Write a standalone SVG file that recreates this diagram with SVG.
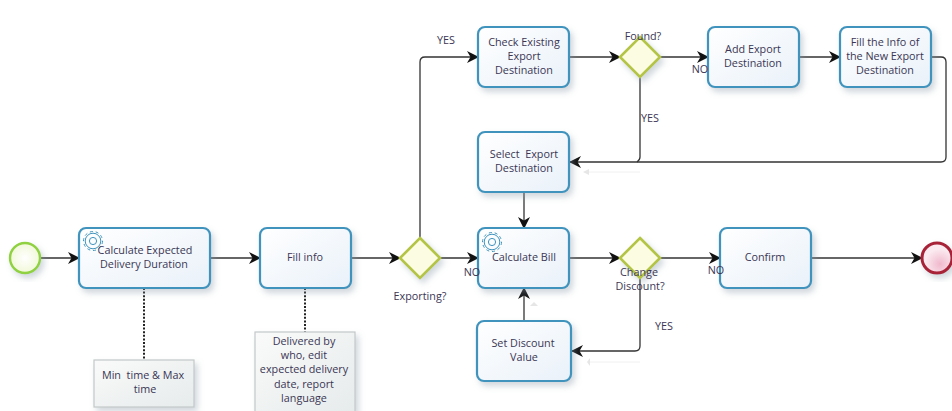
<svg xmlns="http://www.w3.org/2000/svg" width="952" height="411" viewBox="0 0 952 411">
<style>
text{font-family:"Open Sans","Liberation Sans",sans-serif;font-size:10.8px;fill:#3a3654;text-anchor:middle;white-space:pre}
.task{fill:url(#tg);stroke:#3f93bd;stroke-width:2.2;filter:url(#sh)}
.gw{fill:#fbfce2;stroke:#b4c444;stroke-width:2.6;filter:url(#sh)}
.note{fill:url(#ng);stroke:#c4c8c8;stroke-width:1.2;filter:url(#sh)}
.flow{fill:none;stroke:#333;stroke-width:1.3;marker-end:url(#ah)}
.gear{fill:none;stroke:#3f93bd;stroke-width:1}
.ghost{fill:none;stroke:#f0f0f0;stroke-width:1}
</style>
<defs>
<linearGradient id="tg" x1="0" y1="0" x2="1" y2="1"><stop offset="0" stop-color="#ffffff"/><stop offset="1" stop-color="#e9f1f9"/></linearGradient>
<linearGradient id="ng" x1="0" y1="0" x2="1" y2="1"><stop offset="0" stop-color="#fafafa"/><stop offset="1" stop-color="#e6ebeb"/></linearGradient>
<radialGradient id="sg"><stop offset="0" stop-color="#ffffff"/><stop offset="1" stop-color="#f1f8d8"/></radialGradient>
<radialGradient id="eg" cx="0.6" cy="0.7"><stop offset="0" stop-color="#f0b8cc"/><stop offset="1" stop-color="#fbeaf0"/></radialGradient>
<filter id="sh" x="-20%" y="-20%" width="150%" height="150%"><feDropShadow dx="3" dy="4" stdDeviation="3" flood-color="#8a9aa8" flood-opacity="0.4"/></filter>
<marker id="ah" viewBox="0 0 12 12" refX="11" refY="6" markerWidth="12" markerHeight="12" markerUnits="userSpaceOnUse" orient="auto"><path d="M0 0L12 6L0 12L3.5 6Z" fill="#111"/></marker>
<g id="gearIcon"><circle class="gear" r="9.5" stroke-width="2.4" stroke-dasharray="3 2.9"/><circle class="gear" r="7.8"/><circle class="gear" r="3.6"/></g>
</defs>

<g id="connectors">
<path class="flow" d="M40 258H79"/>
<path class="flow" d="M210 258H260"/>
<path class="flow" d="M351 258H400"/>
<path class="flow" d="M440 258H478"/>
<path class="flow" d="M420 238V62Q420 57 425 57H478"/>
<path class="flow" d="M569 57H620"/>
<path class="flow" d="M660 57H708"/>
<path class="flow" d="M799 57H840"/>
<path class="flow" d="M931 57H941Q946 57 946 62V157Q946 162 941 162H570"/>
<path class="flow" style="marker-end:none" d="M640 77V157Q640 160 637 162"/>
<path class="flow" d="M524 192V228"/>
<path class="flow" d="M524 321V288"/>
<path class="flow" d="M569 258H620"/>
<path class="flow" d="M660 258H720"/>
<path class="flow" d="M811 258H922"/>
<path class="flow" d="M640 278V346Q640 351 635 351H572"/>
<path d="M144 288V360M305 288V332" fill="none" stroke="#222" stroke-width="2" stroke-dasharray="2 1.6"/>
<path class="ghost" d="M586 172H640M590 362H640"/>
<path d="M583 172L589 169V175Z M587 362L590 358L590 366Z M534 302L530 306H538Z" fill="#e6e6e6"/>
</g>

<g id="start"><circle cx="25" cy="258" r="15" fill="url(#sg)" stroke="#8fd13f" stroke-width="2.4" filter="url(#sh)"/></g>
<g id="calc-duration"><rect class="task" x="79" y="228" width="131" height="60" rx="7"/><use href="#gearIcon" x="93" y="241"/><text x="145" y="254">Calculate Expected</text><text x="144" y="268">Delivery Duration</text></g>
<g id="fill-info"><rect class="task" x="260" y="228" width="91" height="60" rx="7"/><text x="305" y="261">Fill info</text></g>
<g id="exporting"><path class="gw" d="M420 238L440 258L420 278L400 258Z"/><text x="420" y="300">Exporting?</text></g>
<g id="check"><rect class="task" x="478" y="27" width="91" height="60" rx="7"/><text x="524" y="46">Check Existing</text><text x="524" y="60">Export</text><text x="524" y="74">Destination</text></g>
<g id="found"><path class="gw" d="M640 37L660 57L640 77L620 57Z"/><text x="643" y="40">Found?</text></g>
<g id="add"><rect class="task" x="708" y="27" width="91" height="60" rx="7"/><text x="753" y="53">Add Export</text><text x="753" y="67">Destination</text></g>
<g id="fill-new"><rect class="task" x="840" y="27" width="91" height="60" rx="7"/><text x="885" y="46">Fill the Info of</text><text x="885" y="60">the New Export</text><text x="885" y="74">Destination</text></g>
<g id="select"><rect class="task" x="478" y="132" width="91" height="60" rx="7"/><text x="524" y="158">Select  Export</text><text x="524" y="172">Destination</text></g>
<g id="calc-bill"><rect class="task" x="478" y="228" width="91" height="60" rx="7"/><use href="#gearIcon" x="492" y="242"/><text x="524" y="261">Calculate Bill</text></g>
<g id="change"><path class="gw" d="M640 238L660 258L640 278L620 258Z"/><text x="639" y="276">Change</text><text x="640" y="290">Discount?</text></g>
<g id="set-discount"><rect class="task" x="477" y="321" width="94" height="60" rx="7"/><text x="523" y="347">Set Discount</text><text x="524" y="361">Value</text></g>
<g id="confirm"><rect class="task" x="720" y="228" width="91" height="60" rx="7"/><text x="765" y="261">Confirm</text></g>
<g id="end"><circle cx="937" cy="258" r="15" fill="url(#eg)" stroke="#a82238" stroke-width="3" filter="url(#sh)"/></g>
<g id="note-time"><rect class="note" x="94" y="360" width="100" height="47"/><text x="143" y="379">Min  time &amp; Max</text><text x="145" y="393">time</text></g>
<g id="note-delivered"><rect class="note" x="255" y="332" width="100" height="80"/><text x="304" y="345">Delivered by</text><text x="304" y="359">who, edit</text><text x="304" y="373">expected delivery</text><text x="304" y="388">date, report</text><text x="304" y="402">language</text></g>

<g id="labels">
<text x="446" y="44">YES</text><text x="650" y="122">YES</text><text x="664" y="330">YES</text>
<text x="472" y="276">NO</text><text x="700" y="73">NO</text><text x="716" y="274">NO</text>
</g>
</svg>
